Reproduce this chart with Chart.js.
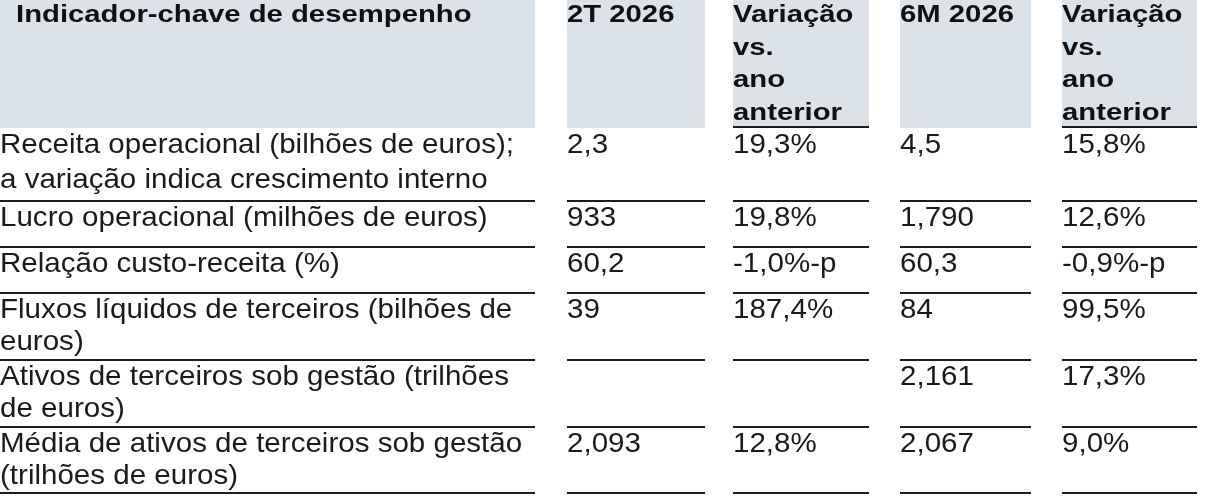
<!DOCTYPE html>
<html>
<head>
<meta charset="utf-8">
<script src="https://cdn.jsdelivr.net/npm/chart.js@4.4.1/dist/chart.umd.min.js"></script>
<style>
  html, body { margin: 0; padding: 0; background: #fff; }
  canvas { display: block; }
</style>
</head>
<body>
<canvas id="kpiTable" width="1215" height="500"></canvas>
<script>
// table content
var headers = [
    ['Indicador-chave de desempenho'],
    ['2T 2026'],
    ['Variação', 'vs.', 'ano', 'anterior'],
    ['6M 2026'],
    ['Variação', 'vs.', 'ano', 'anterior']
];
var indicators = [
    ['Receita operacional (bilhões de euros);', 'a variação indica crescimento interno'],
    ['Lucro operacional (milhões de euros)'],
    ['Relação custo-receita (%)'],
    ['Fluxos líquidos de terceiros (bilhões de', 'euros)'],
    ['Ativos de terceiros sob gestão (trilhões', 'de euros)'],
    ['Média de ativos de terceiros sob gestão', '(trilhões de euros)']
];
var q2Values  = ['2,3', '933', '60,2', '39', '', '2,093'];
var q2Change  = ['19,3%', '19,8%', '-1,0%-p', '187,4%', '', '12,8%'];
var h1Values  = ['4,5', '1,790', '60,3', '84', '2,161', '2,067'];
var h1Change  = ['15,8%', '12,6%', '-0,9%-p', '99,5%', '17,3%', '9,0%'];

// layout (in scale units)
var colLeft  = [0, 567, 733, 900, 1062];
var colRight = [535, 705, 869, 1031, 1197];
var headerBottom = 128;
var rowBottom = [201, 247, 293, 360, 427, 493];
var underlineCols = [2, 4];

var tablePlugin = {
    id: 'tablePlugin',
    afterDraw: function(chart){
        var ctx = chart.ctx;
        var xs = chart.scales.x, ys = chart.scales.y;
        var X = function(v){ return xs.getPixelForValue(v); };
        var Y = function(v){ return ys.getPixelForValue(v); };

        function text(s, x, y, font, color, stretch){
            ctx.save();
            ctx.font = font;
            ctx.fillStyle = color;
            ctx.textBaseline = 'alphabetic';
            ctx.translate(X(x), Y(y));
            ctx.scale(stretch, 1);
            ctx.fillText(s, 0, 0);
            ctx.restore();
        }
        function hline(x1, x2, y){
            ctx.save();
            ctx.strokeStyle = '#1c1c1c';
            ctx.lineWidth = 2;
            ctx.beginPath();
            ctx.moveTo(X(x1), Y(y));
            ctx.lineTo(X(x2), Y(y));
            ctx.stroke();
            ctx.restore();
        }

        // header cells
        ctx.save();
        ctx.fillStyle = '#dbe2e8';
        for(var c = 0; c < colLeft.length; c++){
            ctx.fillRect(X(colLeft[c]), Y(0), X(colRight[c]) - X(colLeft[c]), Y(headerBottom) - Y(0));
        }
        ctx.restore();
        var hFont = 'bold 24px "Liberation Sans", Arial, sans-serif';
        for(var c = 0; c < headers.length; c++){
            var hx = c === 0 ? 16 : colLeft[c];
            for(var l = 0; l < headers[c].length; l++){
                text(headers[c][l], hx, 22 + l * 32.5, hFont, '#111', 1.22);
            }
        }
        underlineCols.forEach(function(c){ hline(colLeft[c], colRight[c], headerBottom - 1); });

        // body rows
        var bFont = '28px "Liberation Sans", Arial, sans-serif';
        var columns = [null, q2Values, q2Change, h1Values, h1Change];
        for(var r = 0; r < indicators.length; r++){
            var top = r === 0 ? headerBottom : rowBottom[r - 1];
            var base = top + 25;
            var gap = r === 0 ? 35 : 32;
            for(var l = 0; l < indicators[r].length; l++){
                text(indicators[r][l], 0, base + l * gap, bFont, '#1a1a1a', 1.055);
            }
            for(var c = 1; c < columns.length; c++){
                if(columns[c][r] !== '') text(columns[c][r], colLeft[c], base, bFont, '#1a1a1a', 1.055);
            }
            for(var c = 0; c < colLeft.length; c++){
                hline(colLeft[c], colRight[c], rowBottom[r]);
            }
        }
    }
};

var ctx = document.getElementById('kpiTable');
var table = new Chart(ctx, {
    type: 'scatter',
    data: { datasets: [] },
    options: {
        responsive: false,
        animation: false,
        devicePixelRatio: 1,
        layout: { padding: 0 },
        plugins: { legend: { display: false }, tooltip: { enabled: false } },
        scales: {
            x: { type: 'linear', min: 0, max: 1215, display: false },
            y: { type: 'linear', min: 0, max: 500, reverse: true, display: false }
        }
    },
    plugins: [tablePlugin]
});
</script>
</body>
</html>
